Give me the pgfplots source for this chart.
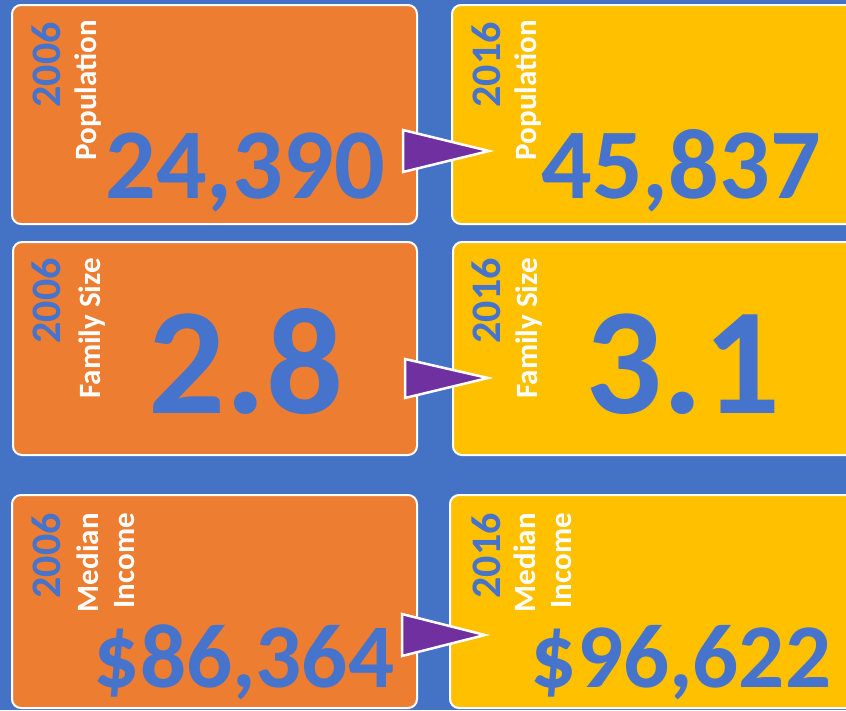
\documentclass[border=0pt]{standalone}
\usepackage{pgfplots}
\pgfplotsset{compat=1.18}
\usepackage{fontspec}
\setmainfont{Carlito}
\definecolor{bgblue}{HTML}{4472C4}
\definecolor{boxorange}{HTML}{ED7D31}
\definecolor{boxyellow}{HTML}{FFC000}
\definecolor{arrowpurple}{HTML}{7030A0}
\definecolor{numblue}{HTML}{4673CB}
\tikzset{
  year/.style={rotate=90, anchor=base east, inner sep=0pt, text=numblue, font=\bfseries\fontsize{42}{42}\selectfont},
  lab/.style={rotate=90, anchor=base east, inner sep=0pt, text=white, font=\bfseries\fontsize{31}{31}\selectfont},
  big/.style={anchor=base, inner sep=0pt, text=numblue, font=\bfseries\fontsize{#1}{#1}\selectfont},
}
\begin{document}
\begin{tikzpicture}
\begin{axis}[scale only axis, width=846pt, height=710pt,
  xmin=0, xmax=846, ymin=0, ymax=710, y dir=reverse,
  hide axis, clip=true]
% background
\addplot[fill=bgblue, draw=none] coordinates {(0,0)(846,0)(846,710)(0,710)} -- cycle;
% boxes: 2006 (orange)
\addplot[fill=boxorange, draw=white, line width=2pt, rounded corners=9pt] coordinates {(12,5)(417,5)(417,224)(12,224)} -- cycle;
\addplot[fill=boxorange, draw=white, line width=2pt, rounded corners=9pt] coordinates {(13,242)(417,242)(417,455)(13,455)} -- cycle;
\addplot[fill=boxorange, draw=white, line width=2pt, rounded corners=9pt] coordinates {(12,495)(417,495)(417,708)(12,708)} -- cycle;
% boxes: 2016 (yellow)
\addplot[fill=boxyellow, draw=white, line width=2pt, rounded corners=9pt] coordinates {(452,5)(870,5)(870,224)(452,224)} -- cycle;
\addplot[fill=boxyellow, draw=white, line width=2pt, rounded corners=9pt] coordinates {(453,242)(870,242)(870,455)(453,455)} -- cycle;
\addplot[fill=boxyellow, draw=white, line width=2pt, rounded corners=9pt] coordinates {(450,495)(870,495)(870,708)(450,708)} -- cycle;
% arrows
\addplot[fill=arrowpurple, draw=white, line width=2.5pt, line join=miter] coordinates {(403,130)(489,151)(403,172)} -- cycle;
\addplot[fill=arrowpurple, draw=white, line width=2.5pt, line join=miter] coordinates {(405,359)(488,378)(405,398)} -- cycle;
\addplot[fill=arrowpurple, draw=white, line width=2.5pt, line join=miter] coordinates {(402,614)(485,635)(402,656)} -- cycle;
% row 1
\node[year] at (axis cs:60,22) {2006};
\node[lab] at (axis cs:96,20) {Population};
\node[big=100] at (axis cs:245,198) {24,390};
\node[year] at (axis cs:500,22) {2016};
\node[lab] at (axis cs:536,20) {Population};
\node[big=100] at (axis cs:681,198) {45,837};
% row 2
\node[year] at (axis cs:60,258) {2006};
\node[lab] at (axis cs:100,258) {Family Size};
\node[big=152] at (axis cs:246,413) {2.8};
\node[year] at (axis cs:500,258) {2016};
\node[lab] at (axis cs:537,258) {Family Size};
\node[big=152] at (axis cs:683,413) {3.1};
% row 3
\node[year] at (axis cs:60,513) {2006};
\node[lab] at (axis cs:98,513) {Median};
\node[lab] at (axis cs:134,513) {Income};
\node[big=91] at (axis cs:244,687) {\$86,364};
\node[year] at (axis cs:500,513) {2016};
\node[lab] at (axis cs:535,513) {Median};
\node[lab] at (axis cs:571,513) {Income};
\node[big=91] at (axis cs:681,687) {\$96,622};
\end{axis}
\pgfresetboundingbox
\path (current axis.south west) rectangle (current axis.north east);
\end{tikzpicture}
\end{document}
